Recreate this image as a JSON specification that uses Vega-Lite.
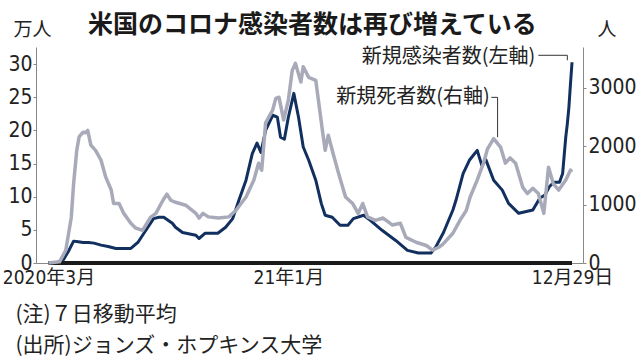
{
  "$schema": "https://vega.github.io/schema/vega-lite/v6.json",
  "width": 547,
  "height": 216,
  "autosize": {"type": "none"},
  "padding": {"left": 36, "top": 47, "right": 55, "bottom": 99},
  "background": "white",
  "config": {"view": {"stroke": null}, "font": "Noto Sans CJK JP"},
  "title": {
    "text": "米国のコロナ感染者数は再び増えている",
    "font": "Noto Sans CJK JP",
    "fontSize": 25,
    "fontWeight": "bold",
    "color": "#1a1a1a",
    "anchor": "start",
    "frame": "group",
    "dx": 52,
    "dy": 18,
    "offset": 0
  },
  "datasets": {
    "cases": [
      {"d": "2020-03-01", "v": 0.05}, {"d": "2020-03-10", "v": 0.05}, {"d": "2020-03-19", "v": 0.3},
      {"d": "2020-03-27", "v": 1.9}, {"d": "2020-04-02", "v": 3.3}, {"d": "2020-04-08", "v": 3.2},
      {"d": "2020-04-14", "v": 3.1}, {"d": "2020-04-21", "v": 3.1}, {"d": "2020-04-28", "v": 3.0},
      {"d": "2020-05-07", "v": 2.7}, {"d": "2020-05-16", "v": 2.5}, {"d": "2020-05-26", "v": 2.2},
      {"d": "2020-06-05", "v": 2.2}, {"d": "2020-06-14", "v": 2.2}, {"d": "2020-06-23", "v": 3.1},
      {"d": "2020-07-03", "v": 4.9}, {"d": "2020-07-13", "v": 6.7}, {"d": "2020-07-20", "v": 6.9},
      {"d": "2020-07-26", "v": 6.9}, {"d": "2020-08-06", "v": 6.0}, {"d": "2020-08-10", "v": 5.4},
      {"d": "2020-08-19", "v": 4.6}, {"d": "2020-09-05", "v": 4.2}, {"d": "2020-09-09", "v": 3.7},
      {"d": "2020-09-17", "v": 4.5}, {"d": "2020-10-03", "v": 4.5}, {"d": "2020-10-13", "v": 5.4},
      {"d": "2020-10-22", "v": 6.7}, {"d": "2020-10-30", "v": 9.5}, {"d": "2020-11-08", "v": 12.5},
      {"d": "2020-11-16", "v": 16.5}, {"d": "2020-11-22", "v": 18.1}, {"d": "2020-11-27", "v": 16.7},
      {"d": "2020-12-03", "v": 20}, {"d": "2020-12-12", "v": 22.3}, {"d": "2020-12-18", "v": 22},
      {"d": "2020-12-22", "v": 19}, {"d": "2020-12-27", "v": 18.7}, {"d": "2021-01-01", "v": 22},
      {"d": "2021-01-08", "v": 25.6}, {"d": "2021-01-14", "v": 22}, {"d": "2021-01-20", "v": 17.5},
      {"d": "2021-01-27", "v": 15.5}, {"d": "2021-02-05", "v": 12.5}, {"d": "2021-02-12", "v": 9},
      {"d": "2021-02-17", "v": 7.2}, {"d": "2021-02-26", "v": 6.9}, {"d": "2021-03-08", "v": 5.7},
      {"d": "2021-03-18", "v": 5.7}, {"d": "2021-03-25", "v": 6.7}, {"d": "2021-04-07", "v": 7.2},
      {"d": "2021-04-16", "v": 6.4}, {"d": "2021-05-01", "v": 4.9}, {"d": "2021-05-18", "v": 3.4},
      {"d": "2021-06-02", "v": 1.9}, {"d": "2021-06-16", "v": 1.5}, {"d": "2021-07-02", "v": 1.5},
      {"d": "2021-07-08", "v": 2.4}, {"d": "2021-07-18", "v": 4.6}, {"d": "2021-07-30", "v": 8},
      {"d": "2021-08-03", "v": 9.5}, {"d": "2021-08-12", "v": 13.5}, {"d": "2021-08-20", "v": 15.5},
      {"d": "2021-08-30", "v": 17}, {"d": "2021-09-05", "v": 14.7}, {"d": "2021-09-10", "v": 15.6},
      {"d": "2021-09-20", "v": 12.5}, {"d": "2021-10-01", "v": 11}, {"d": "2021-10-09", "v": 9},
      {"d": "2021-10-22", "v": 7.5}, {"d": "2021-11-09", "v": 8}, {"d": "2021-11-18", "v": 9.8},
      {"d": "2021-11-24", "v": 10.2}, {"d": "2021-11-30", "v": 11.5}, {"d": "2021-12-06", "v": 12.2},
      {"d": "2021-12-13", "v": 12.2}, {"d": "2021-12-17", "v": 13.5}, {"d": "2021-12-21", "v": 19},
      {"d": "2021-12-23", "v": 21}, {"d": "2021-12-25", "v": 23.5}, {"d": "2021-12-27", "v": 27},
      {"d": "2021-12-29", "v": 30.3}
    ],
    "deaths": [
      {"d": "2020-03-01", "v": 0}, {"d": "2020-03-15", "v": 20}, {"d": "2020-03-23", "v": 218},
      {"d": "2020-03-30", "v": 780}, {"d": "2020-04-02", "v": 1360}, {"d": "2020-04-06", "v": 1930},
      {"d": "2020-04-09", "v": 2160}, {"d": "2020-04-14", "v": 2240}, {"d": "2020-04-17", "v": 2230},
      {"d": "2020-04-20", "v": 2270}, {"d": "2020-04-24", "v": 2020}, {"d": "2020-04-30", "v": 1930},
      {"d": "2020-05-07", "v": 1760}, {"d": "2020-05-13", "v": 1470}, {"d": "2020-05-20", "v": 1250},
      {"d": "2020-05-23", "v": 1020}, {"d": "2020-05-30", "v": 1020}, {"d": "2020-06-05", "v": 850},
      {"d": "2020-06-14", "v": 680}, {"d": "2020-06-20", "v": 600}, {"d": "2020-06-29", "v": 560},
      {"d": "2020-07-09", "v": 780}, {"d": "2020-07-16", "v": 850}, {"d": "2020-07-25", "v": 1075},
      {"d": "2020-07-30", "v": 1180}, {"d": "2020-08-04", "v": 1075}, {"d": "2020-08-10", "v": 1040},
      {"d": "2020-08-23", "v": 990}, {"d": "2020-09-05", "v": 850}, {"d": "2020-09-09", "v": 770},
      {"d": "2020-09-14", "v": 850}, {"d": "2020-09-21", "v": 790}, {"d": "2020-10-04", "v": 770},
      {"d": "2020-10-17", "v": 790}, {"d": "2020-10-26", "v": 900}, {"d": "2020-11-08", "v": 1130},
      {"d": "2020-11-18", "v": 1420}, {"d": "2020-11-24", "v": 1710}, {"d": "2020-11-28", "v": 1590},
      {"d": "2020-12-03", "v": 2400}, {"d": "2020-12-12", "v": 2620}, {"d": "2020-12-16", "v": 2820},
      {"d": "2020-12-20", "v": 2840}, {"d": "2020-12-26", "v": 2450}, {"d": "2021-01-01", "v": 2790},
      {"d": "2021-01-06", "v": 3300}, {"d": "2021-01-10", "v": 3420}, {"d": "2021-01-17", "v": 3100},
      {"d": "2021-01-20", "v": 3360}, {"d": "2021-01-27", "v": 3180}, {"d": "2021-02-05", "v": 3130},
      {"d": "2021-02-14", "v": 2220}, {"d": "2021-02-17", "v": 1930}, {"d": "2021-02-21", "v": 2190},
      {"d": "2021-02-27", "v": 1880}, {"d": "2021-03-06", "v": 1540}, {"d": "2021-03-15", "v": 1130},
      {"d": "2021-03-24", "v": 1020}, {"d": "2021-03-31", "v": 850}, {"d": "2021-04-06", "v": 1020},
      {"d": "2021-04-12", "v": 790}, {"d": "2021-04-22", "v": 730}, {"d": "2021-05-02", "v": 770},
      {"d": "2021-05-14", "v": 650}, {"d": "2021-05-24", "v": 680}, {"d": "2021-05-31", "v": 440},
      {"d": "2021-06-13", "v": 355}, {"d": "2021-06-26", "v": 300}, {"d": "2021-07-04", "v": 220},
      {"d": "2021-07-12", "v": 270}, {"d": "2021-07-17", "v": 320}, {"d": "2021-07-30", "v": 510},
      {"d": "2021-08-08", "v": 730}, {"d": "2021-08-16", "v": 900}, {"d": "2021-08-21", "v": 1130},
      {"d": "2021-08-30", "v": 1420}, {"d": "2021-09-07", "v": 1710}, {"d": "2021-09-12", "v": 1950},
      {"d": "2021-09-20", "v": 2130}, {"d": "2021-09-29", "v": 1980}, {"d": "2021-10-05", "v": 1710},
      {"d": "2021-10-11", "v": 1800}, {"d": "2021-10-18", "v": 1710}, {"d": "2021-10-27", "v": 1300},
      {"d": "2021-11-02", "v": 1190}, {"d": "2021-11-09", "v": 1280}, {"d": "2021-11-16", "v": 1190},
      {"d": "2021-11-23", "v": 850}, {"d": "2021-11-29", "v": 1640}, {"d": "2021-12-05", "v": 1360},
      {"d": "2021-12-12", "v": 1250}, {"d": "2021-12-21", "v": 1420}, {"d": "2021-12-27", "v": 1590},
      {"d": "2021-12-29", "v": 1560}
    ],
    "period": [{"start": "2020-03-01", "end": "2021-12-29", "v": 0}],
    "leaders": [
      {"d1": "2021-11-16", "d2": "2021-12-23", "v1": 31.35, "v2": 31.35},
      {"d1": "2021-12-23", "d2": "2021-12-23", "v1": 31.35, "v2": 30.6},
      {"d1": "2021-09-17", "d2": "2021-09-25", "v1": 25.0, "v2": 25.0},
      {"d1": "2021-09-25", "d2": "2021-09-25", "v1": 25.0, "v2": 19.0}
    ],
    "labels": [
      {"d": "2021-11-12", "v": 31.1, "t": "新規感染者数(左軸)"},
      {"d": "2021-09-15", "v": 25.1, "t": "新規死者数(右軸)"}
    ]
  },
  "layer": [
    {
      "data": {"name": "cases"},
      "mark": {"type": "line", "color": "#12305f", "strokeWidth": 3, "strokeJoin": "round"},
      "encoding": {
        "x": {
          "field": "d", "type": "temporal",
          "scale": {"domain": [{"year": 2020, "month": 2, "date": 14}, {"year": 2022, "month": 1, "date": 12}]},
          "axis": {
            "values": [{"year": 2020, "month": 3, "date": 1}, {"year": 2021, "month": 1, "date": 1}, {"year": 2021, "month": 12, "date": 29}],
            "labelExpr": "datum.value < datetime(2020, 7, 1) ? '2020年3月' : (datum.value < datetime(2021, 6, 1) ? '21年1月' : '12月29日')",
            "ticks": false,
            "grid": false,
            "domainColor": "#888888",
            "labelFont": "Liberation Sans Narrow, DejaVu Sans Condensed, Liberation Sans, Noto Sans CJK JP, sans-serif",
            "labelFontSize": 19,
            "labelColor": "#222222",
            "labelPadding": 5,
            "labelFlush": false,
            "labelOverlap": false,
            "title": ["(注)７日移動平均", "(出所)ジョンズ・ホプキンス大学"],
            "titleFont": "Noto Sans CJK JP",
            "titleFontSize": 21,
            "titleFontWeight": "normal",
            "titleColor": "#222222",
            "titleAlign": "left",
            "titleAnchor": "start",
            "titleBaseline": "alphabetic",
            "titleX": -21,
            "titleY": 57,
            "titleLineHeight": 31
          }
        },
        "y": {
          "field": "v", "type": "quantitative",
          "scale": {"domain": [0, 32.6], "nice": false, "zero": true},
          "axis": {
            "orient": "left",
            "values": [0, 5, 10, 15, 20, 25, 30],
            "grid": false,
            "domainColor": "#888888",
            "tickColor": "#888888",
            "tickSize": 3,
            "labelOverlap": false,
            "labelFont": "Liberation Sans Narrow, DejaVu Sans Condensed, Liberation Sans, Noto Sans CJK JP, sans-serif",
            "labelFontSize": 21,
            "labelColor": "#222222",
            "labelPadding": 1,
            "title": "万人",
            "titleFont": "Noto Sans CJK JP",
            "titleFontSize": 19,
            "titleFontWeight": "normal",
            "titleColor": "#222222",
            "titleAngle": 0,
            "titleAlign": "left",
            "titleBaseline": "alphabetic",
            "titleX": -23,
            "titleY": -12
          }
        }
      }
    },
    {
      "data": {"name": "period"},
      "mark": {"type": "rule", "color": "#1a1a1a", "strokeWidth": 4},
      "encoding": {
        "x": {"field": "start", "type": "temporal", "scale": {"domain": [{"year": 2020, "month": 2, "date": 14}, {"year": 2022, "month": 1, "date": 12}]}},
        "x2": {"field": "end"},
        "y": {"field": "v", "type": "quantitative", "scale": {"domain": [0, 32.6], "nice": false}, "axis": null}
      }
    },
    {
      "data": {"name": "leaders"},
      "mark": {"type": "rule", "color": "#333333", "strokeWidth": 1},
      "encoding": {
        "x": {"field": "d1", "type": "temporal", "scale": {"domain": [{"year": 2020, "month": 2, "date": 14}, {"year": 2022, "month": 1, "date": 12}]}},
        "x2": {"field": "d2"},
        "y": {"field": "v1", "type": "quantitative", "scale": {"domain": [0, 32.6], "nice": false}, "axis": null},
        "y2": {"field": "v2"}
      }
    },
    {
      "data": {"name": "labels"},
      "mark": {"type": "text", "align": "right", "baseline": "middle", "font": "Noto Sans CJK JP", "fontSize": 20, "color": "#222222"},
      "encoding": {
        "x": {"field": "d", "type": "temporal", "scale": {"domain": [{"year": 2020, "month": 2, "date": 14}, {"year": 2022, "month": 1, "date": 12}]}},
        "y": {"field": "v", "type": "quantitative", "scale": {"domain": [0, 32.6], "nice": false}, "axis": null},
        "text": {"field": "t"}
      }
    },
    {
      "data": {"name": "deaths"},
      "mark": {"type": "line", "color": "#a8aab9", "strokeWidth": 3.5, "strokeJoin": "round"},
      "encoding": {
        "x": {"field": "d", "type": "temporal", "scale": {"domain": [{"year": 2020, "month": 2, "date": 14}, {"year": 2022, "month": 1, "date": 12}]}},
        "y": {
          "field": "v", "type": "quantitative",
          "scale": {"domain": [0, 3700], "nice": false, "zero": true},
          "axis": {
            "orient": "right",
            "values": [0, 1000, 2000, 3000],
            "format": "d",
            "grid": false,
            "domainColor": "#888888",
            "tickColor": "#888888",
            "tickSize": 3,
            "labelOverlap": false,
            "labelFont": "Liberation Sans Narrow, DejaVu Sans Condensed, Liberation Sans, Noto Sans CJK JP, sans-serif",
            "labelFontSize": 21,
            "labelColor": "#222222",
            "labelPadding": 2,
            "title": "人",
            "titleFont": "Noto Sans CJK JP",
            "titleFontSize": 19,
            "titleFontWeight": "normal",
            "titleColor": "#222222",
            "titleAngle": 0,
            "titleAlign": "left",
            "titleBaseline": "alphabetic",
            "titleX": 14,
            "titleY": -12
          }
        }
      }
    }
  ],
  "resolve": {"scale": {"y": "independent"}, "axis": {"y": "independent"}}
}
